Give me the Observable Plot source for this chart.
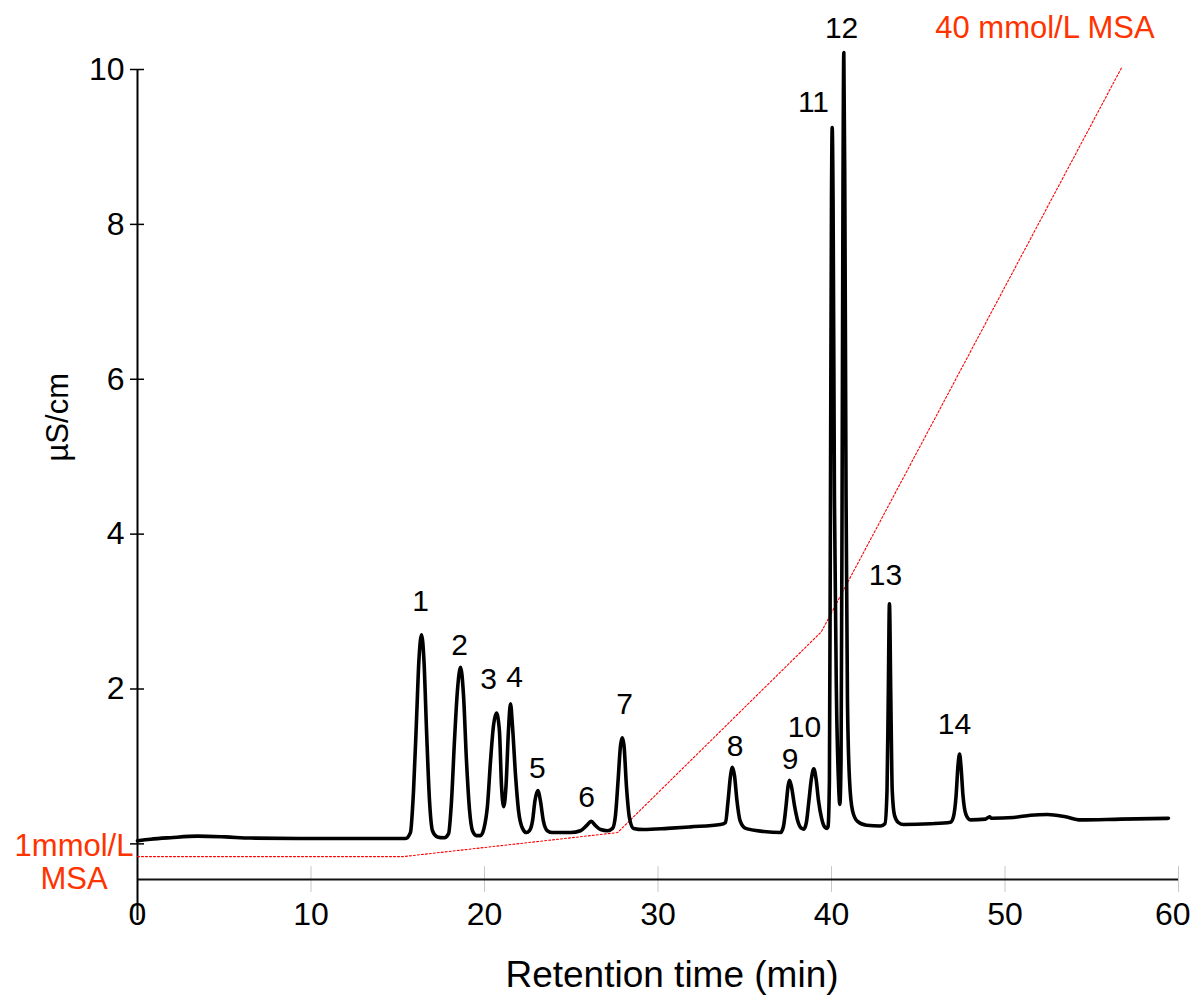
<!DOCTYPE html>
<html><head><meta charset="utf-8">
<script src="https://cdn.jsdelivr.net/npm/d3@7"></script>
<script src="https://cdn.jsdelivr.net/npm/@observablehq/plot@0.6"></script>
<style>body{margin:0;background:#fff}</style>
</head><body><div id="chart"></div>
<script>
// Chromatogram trace: retention time (min) and conductivity (µS/cm)
const time = [0.00,0.75,1.90,3.46,5.07,6.51,9.39,12.28,15.45,
  15.73,15.91,16.08,16.22,16.37,16.51,16.66,16.83,17.00,17.24,17.46,17.69,
  17.93,18.10,18.27,18.44,18.62,18.79,18.96,19.14,19.31,19.54,
  19.77,19.97,20.17,20.35,20.52,20.69,20.86,20.98,21.11,21.24,21.38,21.50,21.61,21.79,21.96,22.19,22.42,
  22.59,22.77,22.91,23.07,23.22,23.39,23.62,23.92,24.96,25.53,
  25.88,26.15,26.40,26.69,27.09,
  27.38,27.55,27.70,27.84,27.94,28.04,28.18,28.36,28.59,29.16,30.55,31.87,33.60,
  33.89,34.04,34.18,34.29,34.41,34.55,34.73,35.05,36.09,37.06,
  37.23,37.38,37.50,37.58,37.70,37.87,38.05,38.28,38.40,
  38.55,38.70,38.84,38.98,39.11,39.25,39.43,39.60,39.75,
  39.80,39.88,39.94,40.00,40.04,40.09,40.17,40.29,40.40,40.48,
  40.55,40.61,40.66,40.71,40.77,40.84,40.92,41.04,41.21,41.50,42.02,42.82,
  43.08,43.20,43.27,43.34,43.42,43.50,43.63,43.86,44.15,45.71,46.86,
  47.03,47.18,47.29,47.38,47.46,47.58,47.75,48.01,48.88,49.11,49.22,50.49,51.47,52.45,53.49,54.35,56.66,59.42];
const signal = [0.04,0.06,0.08,0.10,0.09,0.075,0.07,0.07,0.07,
  0.146,0.69,1.59,2.37,2.70,2.37,1.46,0.56,0.17,0.094,0.081,0.08,
  0.133,0.56,1.335,1.98,2.28,1.92,1.08,0.43,0.17,0.107,
  0.107,0.20,0.49,1.08,1.53,1.69,1.46,0.75,0.48,0.75,1.46,1.81,1.53,0.88,0.43,0.20,0.146,
  0.17,0.30,0.56,0.69,0.56,0.30,0.17,0.146,0.146,0.17,
  0.236,0.29,0.236,0.185,0.17,
  0.20,0.37,0.82,1.27,1.37,1.27,0.75,0.33,0.20,0.185,0.20,0.22,0.25,
  0.275,0.56,0.88,0.99,0.88,0.56,0.30,0.20,0.16,0.146,
  0.225,0.49,0.75,0.82,0.73,0.49,0.30,0.20,0.19,
  0.275,0.56,0.84,0.97,0.84,0.56,0.33,0.22,0.20,
  0.22,0.82,4.44,8.31,9.25,8.31,4.44,1.85,0.82,0.51,
  1.08,4.44,8.31,10.22,8.31,4.44,1.85,0.82,0.43,0.29,0.24,0.23,
  0.26,0.69,1.85,3.10,1.85,0.69,0.37,0.275,0.25,0.26,0.28,
  0.35,0.62,1.01,1.16,1.01,0.62,0.38,0.31,0.32,0.35,0.33,0.34,0.37,0.38,0.35,0.31,0.32,0.33];

// Eluent gradient (MSA), drawn against the same vertical axis
const gradientTime = [0, 15.33, 27.67, 39.42, 56.71];
const gradientLevel = [-0.164, -0.164, 0.146, 2.74, 10.02];
const gradientLabels = ["40 mmol/L MSA", "1mmol/L\nMSA"];
const gradientLabelTime = [52.3, -3.66];
const gradientLabelLevel = [10.54, -0.23];

// Peak numbers and where their labels sit (time, µS/cm)
const peakIds = ["1","2","3","4","5","6","7","8","9","10","11","12","13","14"];
const peakLabelTime = [16.31,18.56,20.23,21.73,23.05,25.88,28.07,34.45,37.61,38.44,38.96,40.58,43.11,47.09];
const peakLabelValue = [3.13,2.56,2.12,2.15,0.98,0.60,1.80,1.26,1.09,1.50,9.57,10.53,3.47,1.54];

const xTicks = [0,10,20,30,40,50,60];
const xTickLabelsInner = [0,10,20,30,40,50];
const xTickLabelLast = [60];
const yTicks = [0,2,4,6,8,10];
const yTickLabels = [2,4,6,8,10];
const xAxisLevel = -0.46;
const yAxisBottom = -0.99;

const trace = time.map((t, i) => ({t, v: signal[i]}));
const gradient = gradientTime.map((t, i) => ({t, v: gradientLevel[i]}));
const gLabels = gradientLabels.map((s, i) => ({s, t: gradientLabelTime[i], v: gradientLabelLevel[i]}));
const peaks = peakIds.map((s, i) => ({s, t: peakLabelTime[i], v: peakLabelValue[i]}));

const font = "'Liberation Sans', Arial, sans-serif";
const chart = Plot.plot({
  width: 1191, height: 999,
  marginLeft: 137, marginRight: 13, marginTop: 69, marginBottom: 120,
  x: {domain: [0, 60]},
  y: {domain: [xAxisLevel, 10]},
  style: {fontFamily: font, background: "#fff", color: "#000", overflow: "visible"},
  marks: [
    Plot.ruleX(xTicks, {x: d => d, y1: xAxisLevel, y2: xAxisLevel, insetTop: -13, insetBottom: -13, stroke: "#c8c8c8", strokeWidth: 1}),
    Plot.ruleY([xAxisLevel], {x1: 0, x2: 60, stroke: "#111", strokeWidth: 2}),
    Plot.ruleX([0], {y1: yAxisBottom, y2: 10, stroke: "#000", strokeWidth: 2}),
    Plot.ruleY(yTicks, {y: d => d, x1: 0, x2: 0, insetLeft: -7, insetRight: -7, stroke: "#000", strokeWidth: 1.5}),
    Plot.axisX(xTickLabelsInner, {tickSize: 0, tickPadding: 23, fontSize: 32, label: null, tickFormat: d => String(d)}),
    Plot.axisX(xTickLabelLast, {tickSize: 0, tickPadding: 23, fontSize: 32, label: null, textAnchor: "end", dx: 12, tickFormat: d => String(d)}),
    Plot.axisY(yTickLabels, {tickSize: 0, tickPadding: 13, fontSize: 32, label: null, tickFormat: d => String(d)}),
    Plot.text(["Retention time (min)"], {frameAnchor: "bottom", dx: 14, dy: 96, fontSize: 37, lineAnchor: "middle"}),
    Plot.text(["µS/cm"], {frameAnchor: "left", dx: -79, dy: -13, rotate: -90, fontSize: 31, lineAnchor: "middle"}),
    Plot.line(gradient, {x: "t", y: "v", stroke: "#ff0000", strokeWidth: 1.1, strokeDasharray: "2,2"}),
    Plot.line(trace, {x: "t", y: "v", curve: "monotone-x", stroke: "#000", strokeWidth: 3.6, strokeLinejoin: "round"}),
    Plot.text(gLabels, {x: "t", y: "v", text: "s", fill: "#ff3300", fontSize: 31, lineHeight: 1.07, lineAnchor: "middle"}),
    Plot.text(peaks, {x: "t", y: "v", text: "s", fill: "#000", fontSize: 30, lineAnchor: "middle"})
  ]
});
document.getElementById("chart").appendChild(chart);
</script>
</body></html>
